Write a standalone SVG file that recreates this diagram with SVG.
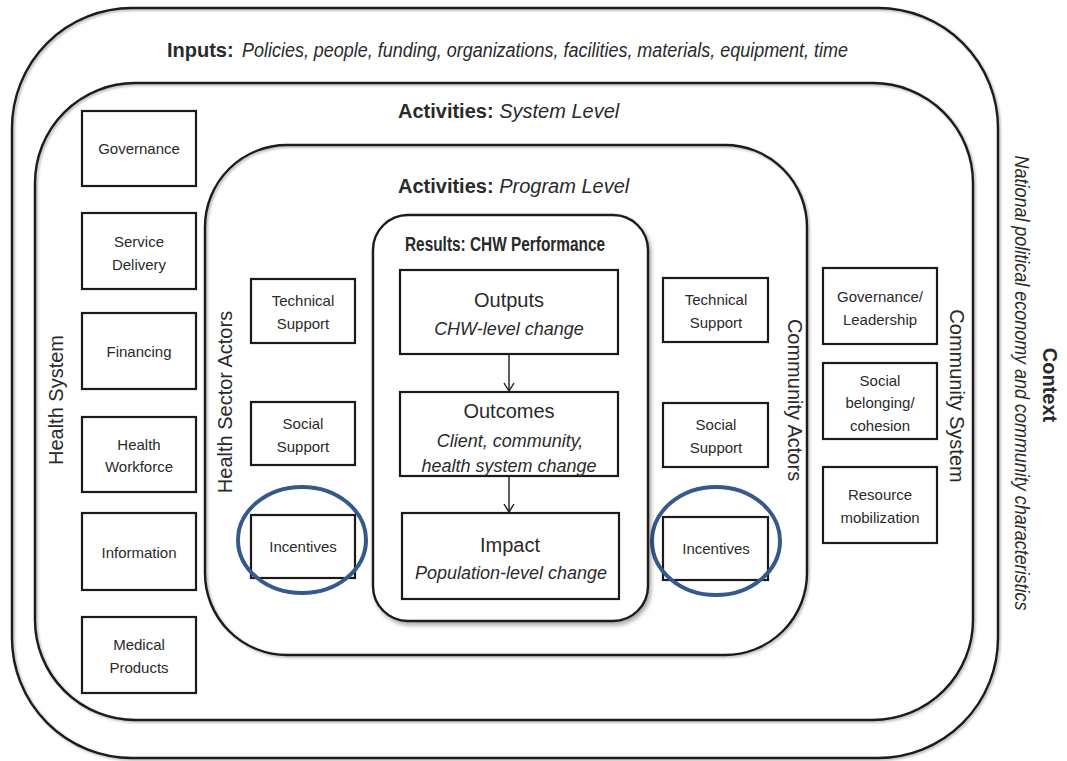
<svg xmlns="http://www.w3.org/2000/svg" width="1067" height="761" viewBox="0 0 1067 761">
<defs>
<style>
.frame{fill:none;stroke:#1a1a1a;stroke-width:2.4}
.box{fill:#fff;stroke:#1a1a1a;stroke-width:2.2}
.lbl{font-family:"Liberation Sans",Arial,sans-serif;font-size:15px;fill:#2a2a2a;text-anchor:middle}
.big{font-family:"Liberation Sans",Arial,sans-serif;font-size:20px;fill:#2a2a2a}
.sub{font-family:"Liberation Sans",Arial,sans-serif;font-size:18px;font-style:italic;fill:#2a2a2a;text-anchor:middle}
.b{font-weight:bold}
.i{font-style:italic}
.ring{fill:none;stroke:#34598a;stroke-width:4}
.conn{stroke:#1a1a1a;stroke-width:1.4;fill:none}
</style>
<filter id="sh" x="-5%" y="-5%" width="115%" height="115%">
<feDropShadow dx="2" dy="3" stdDeviation="2" flood-color="#000" flood-opacity="0.35"/>
</filter>
<filter id="sh2" x="-5%" y="-5%" width="115%" height="115%">
<feDropShadow dx="1.5" dy="1.5" stdDeviation="1.2" flood-color="#000" flood-opacity="0.3"/>
</filter>
<marker id="arr" viewBox="0 0 12 12" refX="11" refY="6" markerWidth="12" markerHeight="12" markerUnits="userSpaceOnUse" orient="auto">
<path d="M3,1 L11,6 L3,11" fill="none" stroke="#1a1a1a" stroke-width="1.4"/>
</marker>
</defs>
<rect width="1067" height="761" fill="#fff"/>

<g id="context">
<rect class="frame" x="12" y="8" width="986" height="750" rx="120" ry="120" filter="url(#sh2)"/>
<text class="big" x="167" y="57" font-size="21" font-weight="bold">Inputs:</text>
<text class="big i" x="242" y="57" font-size="20" textLength="606" lengthAdjust="spacingAndGlyphs">Policies, people, funding, organizations, facilities, materials, equipment, time</text>
<text class="big b" transform="translate(1043,385) rotate(90)" text-anchor="middle">Context</text>
<text class="big i" transform="translate(1015,383) rotate(90)" text-anchor="middle" font-size="17" textLength="455" lengthAdjust="spacingAndGlyphs">National political economy and community characteristics</text>
</g>

<g id="system-level">
<rect class="frame" x="35" y="83" width="938" height="637" rx="100" ry="100" filter="url(#sh2)"/>
<text class="big" x="398" y="118"><tspan class="b">Activities:</tspan><tspan class="i"> System Level</tspan></text>
<text class="big" transform="translate(63,400) rotate(-90)" text-anchor="middle">Health System</text>
<text class="big" transform="translate(950,396) rotate(90)" text-anchor="middle">Community System</text>
</g>

<g id="hs-governance"><rect class="box" x="82" y="111" width="114" height="75"/><text class="lbl" x="139" y="154">Governance</text></g>
<g id="hs-service-delivery"><rect class="box" x="82" y="213" width="114" height="76"/><text class="lbl" x="139" y="247">Service</text><text class="lbl" x="139" y="270">Delivery</text></g>
<g id="hs-financing"><rect class="box" x="82" y="313" width="114" height="76"/><text class="lbl" x="139" y="357">Financing</text></g>
<g id="hs-workforce"><rect class="box" x="82" y="417" width="114" height="75"/><text class="lbl" x="139" y="450">Health</text><text class="lbl" x="139" y="472">Workforce</text></g>
<g id="hs-information"><rect class="box" x="82" y="513" width="114" height="77"/><text class="lbl" x="139" y="558">Information</text></g>
<g id="hs-medical"><rect class="box" x="82" y="617" width="114" height="76"/><text class="lbl" x="139" y="650">Medical</text><text class="lbl" x="139" y="673">Products</text></g>

<g id="cs-governance"><rect class="box" x="823" y="268" width="114" height="76"/><text class="lbl" x="880" y="302">Governance/</text><text class="lbl" x="880" y="325">Leadership</text></g>
<g id="cs-social"><rect class="box" x="823" y="363" width="114" height="76"/><text class="lbl" x="880" y="386">Social</text><text class="lbl" x="880" y="408">belonging/</text><text class="lbl" x="880" y="431">cohesion</text></g>
<g id="cs-resource"><rect class="box" x="823" y="467" width="114" height="76"/><text class="lbl" x="880" y="500">Resource</text><text class="lbl" x="880" y="523">mobilization</text></g>

<g id="program-level">
<rect class="frame" x="205" y="145" width="602" height="510" rx="82" ry="82" filter="url(#sh2)"/>
<text class="big" x="398" y="193"><tspan class="b">Activities:</tspan><tspan class="i"> Program Level</tspan></text>
<text class="big" transform="translate(232,402) rotate(-90)" text-anchor="middle">Health Sector Actors</text>
<text class="big" transform="translate(788,400) rotate(90)" text-anchor="middle">Community Actors</text>
</g>

<g id="ha-technical"><rect class="box" x="251" y="279" width="104" height="64"/><text class="lbl" x="303" y="306">Technical</text><text class="lbl" x="303" y="329">Support</text></g>
<g id="ha-social"><rect class="box" x="251" y="402" width="104" height="63"/><text class="lbl" x="303" y="429">Social</text><text class="lbl" x="303" y="452">Support</text></g>
<g id="ha-incentives"><rect class="box" x="251" y="515" width="104" height="63"/><text class="lbl" x="303" y="552">Incentives</text><ellipse class="ring" cx="302" cy="540" rx="64" ry="53"/></g>

<g id="ca-technical"><rect class="box" x="663" y="278" width="105" height="64"/><text class="lbl" x="716" y="305">Technical</text><text class="lbl" x="716" y="328">Support</text></g>
<g id="ca-social"><rect class="box" x="663" y="403" width="105" height="64"/><text class="lbl" x="716" y="430">Social</text><text class="lbl" x="716" y="453">Support</text></g>
<g id="ca-incentives"><rect class="box" x="663" y="517" width="105" height="63"/><text class="lbl" x="716" y="554">Incentives</text><ellipse class="ring" cx="716" cy="541" rx="64" ry="54"/></g>

<g id="results">
<rect x="373" y="215" width="275" height="406" rx="35" ry="35" fill="#fff" stroke="#1a1a1a" stroke-width="2.4" filter="url(#sh)"/>
<text class="big b" x="505" y="251" font-size="14.5" text-anchor="middle" textLength="200" lengthAdjust="spacingAndGlyphs">Results: CHW Performance</text>
</g>

<g id="outputs"><rect class="box" x="400" y="270" width="218" height="84"/><text class="big" x="509" y="307" text-anchor="middle">Outputs</text><text class="sub" x="509" y="335">CHW-level change</text></g>
<g id="outcomes"><rect class="box" x="400" y="392" width="218" height="84"/><text class="big" x="509" y="418" text-anchor="middle">Outcomes</text><text class="sub" x="510" y="447">Client, community,</text><text class="sub" x="509" y="472">health system change</text></g>
<g id="impact"><rect class="box" x="402" y="513" width="217" height="86"/><text class="big" x="510" y="552" text-anchor="middle" font-size="21">Impact</text><text class="sub" x="511" y="579">Population-level change</text></g>

<g id="connectors">
<line class="conn" x1="509" y1="355" x2="509" y2="391" marker-end="url(#arr)"/>
<line class="conn" x1="509" y1="477" x2="509" y2="512" marker-end="url(#arr)"/>
</g>
</svg>
